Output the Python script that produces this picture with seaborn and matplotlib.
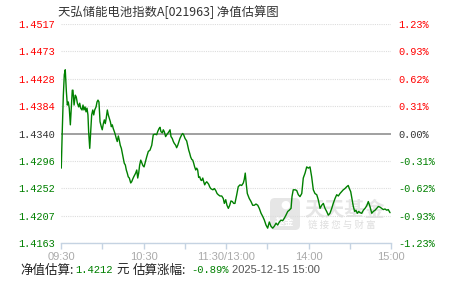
import numpy as np
import pandas as pd
import matplotlib
matplotlib.use("Agg")
import matplotlib.pyplot as plt
from matplotlib.patches import FancyBboxPatch
import seaborn as sns

# ---------------- data ----------------
minutes = [0.2, 0.9, 1.7, 2.4, 3.1, 3.9, 4.6, 5.3, 6.0, 6.8, 7.5, 8.2, 8.7, 9.5, 10.4, 11.1,
           11.9, 12.9, 13.6, 14.3, 15.3, 16.0, 16.7, 17.5, 18.2, 18.9, 19.6, 20.1, 20.9, 21.6,
           22.3, 23.1, 23.8, 24.5, 25.5, 26.2, 26.9, 27.6, 28.4, 29.3, 30.0, 30.8, 31.5, 32.2,
           32.9, 33.7, 34.4, 35.1, 35.9, 36.6, 37.3, 38.0, 38.8, 39.5, 40.2, 40.9, 41.7, 42.4,
           43.1, 43.9, 44.6, 45.3, 46.0, 46.8, 47.5, 48.2, 48.9, 49.7, 50.7, 51.4, 52.1, 52.9,
           53.6, 54.3, 55.1, 55.8, 56.5, 57.2, 58.0, 58.9, 59.6, 60.4, 61.1, 62.3, 63.5, 64.7,
           66.0, 67.1, 68.4, 69.6, 70.3, 71.3, 72.0, 72.7, 73.7, 74.4, 75.1, 76.1, 76.9, 77.6,
           78.5, 79.3, 80.0, 80.9, 81.7, 82.4, 83.4, 84.1, 84.9, 85.8, 86.5, 87.8, 88.5, 89.2,
           90.2, 91.4, 92.1, 92.9, 93.6, 94.3, 95.1, 95.8, 96.5, 97.2, 98.0, 98.7, 99.4, 100.1,
           100.9, 101.6, 102.3, 103.1, 103.8, 104.5, 105.2, 106.0, 106.7, 107.4, 108.1, 108.9,
           109.6, 110.5, 111.5, 112.5, 113.5, 114.4, 115.6, 116.9, 118.0, 118.8, 119.8, 120.7,
           121.7, 122.7, 123.6, 124.6, 125.6, 126.5, 127.8, 128.9, 130.2, 131.4, 132.6, 133.3,
           134.0, 134.8, 135.5, 136.9, 138.2, 139.4, 140.6, 141.8, 143.1, 144.2, 145.5, 146.7,
           147.9, 149.1, 150.3, 151.5, 152.7, 154.0, 155.1, 156.4, 157.6, 158.8, 160.0, 161.2,
           162.4, 163.6, 164.9, 166.0, 167.3, 168.0, 168.9, 170.2, 171.4, 172.6, 173.8, 175.1,
           176.2, 177.5, 178.7, 179.9, 181.1, 182.3, 183.5, 184.7, 186.0, 187.1, 188.4, 189.6,
           190.8, 192.0, 193.2, 194.4, 195.6, 196.9, 198.0, 199.3, 200.5, 201.7, 202.9, 204.1,
           205.3, 206.5, 207.8, 208.9, 209.7, 210.7, 211.6, 212.6, 213.6, 214.5, 215.5, 216.5,
           217.5, 218.7, 219.9, 221.1, 222.3, 223.5, 224.7, 226.0, 227.1, 228.4, 229.6, 230.8,
           232.0, 233.2, 234.4, 235.6, 236.9, 238.0, 239.3]
nav = [1.4284, 1.4343, 1.4402, 1.4435, 1.4443, 1.4408, 1.4386, 1.4391, 1.4381, 1.4354, 1.4381,
       1.4410, 1.4410, 1.4386, 1.4402, 1.4399, 1.4389, 1.4383, 1.4389, 1.4381, 1.4378, 1.4386,
       1.4378, 1.4383, 1.4375, 1.4381, 1.4370, 1.4343, 1.4316, 1.4343, 1.4370, 1.4378, 1.4370,
       1.4378, 1.4383, 1.4391, 1.4394, 1.4391, 1.4359, 1.4351, 1.4346, 1.4356, 1.4362, 1.4356,
       1.4365, 1.4378, 1.4370, 1.4365, 1.4359, 1.4351, 1.4354, 1.4348, 1.4343, 1.4338, 1.4332,
       1.4327, 1.4336, 1.4329, 1.4321, 1.4316, 1.4308, 1.4300, 1.4292, 1.4289, 1.4281, 1.4276,
       1.4270, 1.4268, 1.4260, 1.4262, 1.4266, 1.4270, 1.4273, 1.4276, 1.4281, 1.4268, 1.4276,
       1.4289, 1.4297, 1.4292, 1.4288, 1.4286, 1.4292, 1.4302, 1.4311, 1.4313, 1.4321, 1.4338,
       1.4339, 1.4338, 1.4343, 1.4348, 1.4350, 1.4343, 1.4341, 1.4346, 1.4343, 1.4335, 1.4338,
       1.4340, 1.4343, 1.4346, 1.4335, 1.4332, 1.4327, 1.4324, 1.4321, 1.4317, 1.4321, 1.4327,
       1.4332, 1.4338, 1.4340, 1.4338, 1.4332, 1.4328, 1.4321, 1.4313, 1.4308, 1.4302, 1.4298,
       1.4297, 1.4292, 1.4286, 1.4281, 1.4284, 1.4281, 1.4269, 1.4270, 1.4265, 1.4264, 1.4268,
       1.4262, 1.4257, 1.4260, 1.4262, 1.4260, 1.4258, 1.4254, 1.4251, 1.4250, 1.4249, 1.4251,
       1.4248, 1.4243, 1.4241, 1.4239, 1.4239, 1.4235, 1.4227, 1.4233, 1.4224, 1.4219, 1.4224,
       1.4231, 1.4230, 1.4227, 1.4227, 1.4241, 1.4254, 1.4257, 1.4256, 1.4260, 1.4266, 1.4276,
       1.4257, 1.4243, 1.4235, 1.4230, 1.4224, 1.4224, 1.4226, 1.4224, 1.4219, 1.4211, 1.4206,
       1.4200, 1.4192, 1.4187, 1.4197, 1.4190, 1.4187, 1.4190, 1.4195, 1.4192, 1.4197, 1.4200,
       1.4199, 1.4203, 1.4208, 1.4214, 1.4216, 1.4219, 1.4238, 1.4249, 1.4249, 1.4248, 1.4241,
       1.4238, 1.4243, 1.4268, 1.4276, 1.4286, 1.4284, 1.4286, 1.4270, 1.4249, 1.4243, 1.4241,
       1.4233, 1.4219, 1.4224, 1.4227, 1.4219, 1.4214, 1.4208, 1.4211, 1.4219, 1.4227, 1.4235,
       1.4241, 1.4239, 1.4243, 1.4246, 1.4249, 1.4251, 1.4254, 1.4256, 1.4251, 1.4246, 1.4235,
       1.4222, 1.4214, 1.4216, 1.4211, 1.4214, 1.4212, 1.4211, 1.4216, 1.4219, 1.4223, 1.4230,
       1.4222, 1.4211, 1.4214, 1.4216, 1.4219, 1.4222, 1.4221, 1.4219, 1.4217, 1.4218, 1.4216,
       1.4217, 1.4212]

title = "天弘储能电池指数A[021963] 净值估算图"
left_labels = ["1.4163", "1.4207", "1.4252", "1.4296", "1.4340", "1.4384", "1.4428", "1.4473", "1.4517"]
right_labels = ["-1.23%", "-0.93%", "-0.62%", "-0.31%", "0.00%", "0.31%", "0.62%", "0.93%", "1.23%"]
x_tick_minutes = [0, 60, 120, 180, 240]
x_tick_labels = ["09:30", "10:30", "11:30/13:00", "14:00", "15:00"]
x_minor_minutes = [30, 90, 150, 210]
base_nav = 1.4340
y_low, y_high = 1.4163, 1.4517
est_nav = "1.4212"
est_change = "-0.89%"
est_time = "2025-12-15 15:00"

df = pd.DataFrame({"minute": minutes, "nav": nav})

# ---------------- style ----------------
sns.set_style("white")
plt.rcParams["font.family"] = ["Noto Sans CJK SC", "DejaVu Sans"]

W, H = 451, 281
fig = plt.figure(figsize=(W / 100, H / 100), dpi=100)
ax_l, ax_r, ax_t, ax_b = 61, 391, 24, 243
ax = fig.add_axes([ax_l / W, 1 - ax_b / H, (ax_r - ax_l) / W, (ax_b - ax_t) / H])

RED = "#ff0000"
GREEN = "#008000"
DARK = "#333333"

# watermark (behind the line)
def ax_xy(px, py):
    return (px - ax_l) / (ax_r - ax_l), (ax_b - py) / (ax_b - ax_t)

x0, y0 = ax_xy(270, 230)
x1, y1 = ax_xy(300, 198)
ax.add_patch(FancyBboxPatch((x0, y0), x1 - x0, y1 - y0, transform=ax.transAxes,
                            boxstyle="round,pad=0,rounding_size=0.015", mutation_aspect=1.5,
                            facecolor="#e6e6e6", edgecolor="none", zorder=0.5))
tx, ty = ax_xy(285, 222)
ax.text(tx, ty, "基金", transform=ax.transAxes, ha="center", va="center", fontsize=7,
        color="white", fontweight="bold", zorder=0.6)
tx, ty = ax_xy(285, 205)
ax.text(tx, ty, "●", transform=ax.transAxes, ha="center", va="center", fontsize=8,
        color="white", zorder=0.6, family=["DejaVu Sans"])
tx, ty = ax_xy(345, 209)
ax.text(tx, ty, "天天基金", transform=ax.transAxes, ha="center", va="center", fontsize=14.5,
        color="#e6e6e6", fontweight="bold", zorder=0.5)
tx, ty = ax_xy(342, 225)
ax.text(tx, ty, "链 接 您 与 财 富", transform=ax.transAxes, ha="center", va="center", fontsize=6.8,
        color="#dedede", zorder=0.5)

# grid lines
yticks = np.linspace(y_low, y_high, 9)
for yv in yticks:
    if abs(yv - base_nav) < 1e-6:
        ax.axhline(yv, color="#999999", lw=1.3, zorder=1)
    else:
        ax.axhline(yv, color="#dddddd", lw=0.8, ls=(0, (1, 1)), zorder=1)

sns.lineplot(data=df, x="minute", y="nav", ax=ax, color=GREEN, lw=1.0, zorder=3,
             estimator=None, sort=False)

ax.set_xlim(0, 240)
ax.set_ylim(y_low, y_high)
ax.set_xlabel("")
ax.set_ylabel("")

# spines
for s in ["top", "left", "right"]:
    ax.spines[s].set_visible(False)
ax.spines["bottom"].set_color("#c5d3e2")
ax.spines["bottom"].set_linewidth(1.0)

# x ticks
ax.set_xticks(x_tick_minutes)
ax.set_xticklabels(x_tick_labels)
ax.set_xticks(x_minor_minutes, minor=True)
ax.tick_params(axis="x", which="both", direction="out", length=4, width=1, color="#c5d3e2",
               bottom=True, pad=2.5)
for lab in ax.get_xticklabels():
    lab.set_family(["Liberation Sans"])
    lab.set_fontsize(8)
    lab.set_color("#aaaaaa")

# left y ticks
mono = ["Liberation Mono", "DejaVu Sans Mono"]
ax.set_yticks(yticks)
ax.set_yticklabels(left_labels)
ax.tick_params(axis="y", which="both", length=0, pad=4, left=False)

def color_for(i):
    if i < 4:
        return GREEN
    if i == 4:
        return DARK
    return RED

for i, lab in enumerate(ax.get_yticklabels()):
    lab.set_family(mono)
    lab.set_fontsize(7.4)
    lab.set_color(color_for(i))

# right y ticks
ax2 = ax.twinx()
ax2.set_ylim(y_low, y_high)
ax2.set_yticks(yticks)
ax2.set_yticklabels(right_labels)
ax2.tick_params(axis="y", length=0, pad=5, right=False)
for s in ax2.spines.values():
    s.set_visible(False)
for i, lab in enumerate(ax2.get_yticklabels()):
    lab.set_family(mono)
    lab.set_fontsize(7.4)
    lab.set_color(color_for(i))

# title
fig.text(58 / W, 1 - 12.5 / H, title, ha="left", va="center", fontsize=8.9, color=DARK,
         family=["Noto Sans CJK SC", "DejaVu Sans"])

# bottom info line
yb = 1 - 270 / H
fig.text(20 / W, yb, "净值估算:", ha="left", va="center", fontsize=9, color="#222222")
fig.text(75 / W, yb, est_nav, ha="left", va="center", fontsize=7.6, color=GREEN, family=mono)
fig.text(116 / W, yb, "元", ha="left", va="center", fontsize=9, color="#222222")
fig.text(133 / W, yb, "估算涨幅:", ha="left", va="center", fontsize=9, color="#222222")
fig.text(191 / W, yb, est_change, ha="left", va="center", fontsize=7.6, color=GREEN, family=mono)
fig.text(232 / W, yb, est_time, ha="left", va="center", fontsize=8, color="#555555",
         family=["Liberation Sans"])

fig.savefig("out.png", dpi=100)
